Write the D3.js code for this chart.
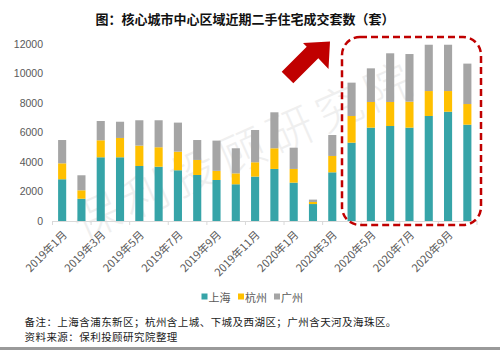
<!DOCTYPE html>
<html><head><meta charset="utf-8">
<script src="https://cdn.jsdelivr.net/npm/d3@7/dist/d3.min.js"></script>
<style>
html,body{margin:0;padding:0;background:#fff;}
svg{display:block;font-family:"Noto Sans CJK SC","Noto Sans",sans-serif;}
</style></head>
<body><svg id="c" width="500" height="350"></svg>
<script>
const months = ["2019年1月","2019年2月","2019年3月","2019年4月","2019年5月","2019年6月","2019年7月","2019年8月","2019年9月","2019年10月","2019年11月","2019年12月","2020年1月","2020年2月","2020年3月","2020年4月","2020年5月","2020年6月","2020年7月","2020年8月","2020年9月","2020年10月"];
const shanghai = [2830,1510,4320,4320,3730,3680,3440,3120,2780,2490,3010,3530,2600,1150,3300,5310,6330,6440,6330,7120,7410,6530];
const hangzhou = [1080,570,1150,1310,1380,1320,1260,1020,620,740,970,1400,930,140,1110,1810,1740,1630,1760,1690,1400,1400];
const guangzhou = [1580,1020,1310,1100,1720,1830,1970,1350,2050,1700,2190,2440,1440,160,1420,2260,2280,3300,3230,3140,3140,2740];
const seriesNames = ["上海","杭州","广州"];
const yTicks = [0,2000,4000,6000,8000,10000,12000];
const titleText = "图：核心城市中心区域近期二手住宅成交套数（套）";
const note1 = "备注：上海含浦东新区；杭州含上城、下城及西湖区；广州含天河及海珠区。";
const note2 = "资料来源：保利投顾研究院整理";
const watermark = "保利投顾研究院";

const colors = ["#36A4A8","#FFC000","#A5A5A5"];
const svg = d3.select("#c");

const rows = months.map((m,i)=>({m, 上海:shanghai[i], 杭州:hangzhou[i], 广州:guangzhou[i]}));
const stack = d3.stack().keys(seriesNames)(rows);

const x = d3.scaleBand().domain(months).range([52.5,477]).paddingInner(0.58).paddingOuter(0.29);
const y = d3.scaleLinear().domain([0,12000]).range([221,44]);

// watermark
svg.append("text").attr("transform","translate(244,147) rotate(-24)")
  .attr("text-anchor","middle").attr("dominant-baseline","central")
  .attr("font-size",46).attr("letter-spacing",7).attr("font-weight",300)
  .attr("fill","#c8c8c8").attr("opacity",0.28).text(watermark);

// title
svg.append("text").attr("x",245).attr("y",24).attr("text-anchor","middle")
  .attr("font-size",13).attr("font-weight","bold").attr("fill","#111").text(titleText);

// y axis labels
const yAxis = d3.axisLeft(y).tickValues(yTicks).tickSize(0).tickPadding(0).tickFormat(d3.format("d"));
const gy = svg.append("g").attr("transform","translate(43,0)").call(yAxis);
gy.select(".domain").remove();
gy.selectAll("text").attr("font-size",10.5).attr("fill","#595959").attr("font-family","'Liberation Sans',Arial,sans-serif");

// bars
svg.append("g").selectAll("g").data(stack).join("g").attr("fill",(d,i)=>colors[i])
  .selectAll("rect").data(d=>d).join("rect")
  .attr("x",d=>x(d.data.m)).attr("width",x.bandwidth())
  .attr("y",d=>y(d[1])).attr("height",d=>y(d[0])-y(d[1]));

// x axis
const xAxis = d3.axisBottom(x).tickSize(0).tickFormat("");
const gx = svg.append("g").attr("transform",`translate(0,${y(0)})`).call(xAxis);
gx.select(".domain").attr("stroke","#d9d9d9").attr("stroke-width",1).attr("d",`M${x.range()[0]},0.5H${x.range()[1]}`);
const step = x.step(), gap = step - x.bandwidth();
const tickPos = months.filter((m,i)=>i%2===0).map(m=>x(m)-gap/2).concat([x.range()[1]]);
svg.append("g").selectAll("line").data(tickPos).join("line")
  .attr("x1",d=>d).attr("x2",d=>d).attr("y1",y(0)).attr("y2",y(0)+4)
  .attr("stroke","#d9d9d9");
svg.append("g").selectAll("text").data(months.filter((m,i)=>i%2===0)).join("text")
  .attr("transform",d=>`translate(${x(d)+x.bandwidth()/2+2},${y(0)+11}) rotate(-45)`)
  .attr("text-anchor","end").attr("dominant-baseline","central")
  .attr("font-size",11).attr("fill","#595959").text(d=>d);

// red dashed box
svg.append("rect").attr("x",342).attr("y",37).attr("width",139).attr("height",188)
  .attr("rx",18).attr("ry",18).attr("fill","none").attr("stroke","#C00000")
  .attr("stroke-width",2.5).attr("stroke-dasharray","7,4");

// arrow
svg.append("polygon").attr("fill","#C00000")
  .attr("points",[[281.7,71.7],[306.7,46.7],[303,43],[330,41.5],[328.5,69],[318.3,58.3],[293.3,83.3]].map(p=>p.join(",")).join(" "));

// legend
const lx = [201.5,238,274];
const lg = svg.append("g").selectAll("g").data(seriesNames).join("g")
  .attr("transform",(d,i)=>`translate(${lx[i]},297)`);
lg.append("rect").attr("x",0).attr("y",-3.5).attr("width",6).attr("height",6).attr("fill",(d,i)=>colors[i]);
lg.append("text").attr("x",7).attr("y",0).attr("dominant-baseline","central")
  .attr("font-size",11).attr("fill","#595959").text(d=>d);

// notes
svg.append("text").attr("x",24.5).attr("y",326).attr("font-size",10.5).attr("letter-spacing",0.45).attr("fill","#1a1a1a").text(note1);
svg.append("text").attr("x",24.5).attr("y",341).attr("font-size",10.5).attr("letter-spacing",0.45).attr("fill","#1a1a1a").text(note2);

// bottom border
svg.append("rect").attr("x",0).attr("y",347).attr("width",500).attr("height",3).attr("fill","#9a9a9a");
</script></body></html>
